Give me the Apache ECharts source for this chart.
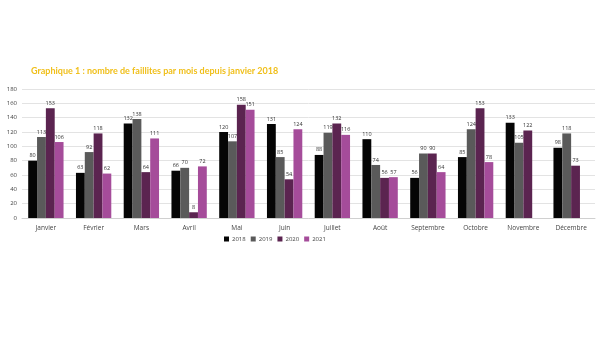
<!DOCTYPE html>
<html><head><meta charset="utf-8">
<script src="https://cdn.jsdelivr.net/npm/echarts@6/dist/echarts.min.js"></script>
<style>html,body{margin:0;padding:0;background:#fff}#c{width:600px;height:344px}</style>
</head><body><div id="c"></div>
<script>
const categories = ["Janvier","Février","Mars","Avril","Mai","Juin","Juillet","Août","Septembre","Octobre","Novembre","Décembre"];
const s2018 = [80,63,132,66,120,131,88,110,56,85,133,98];
const s2019 = [113,92,138,70,107,85,119,74,90,124,105,118];
const s2020 = [153,118,64,8,158,54,132,56,90,153,122,73];
const s2021 = [106,62,111,72,151,124,116,57,64,78,null,null];
const yTicks = [0,20,40,60,80,100,120,140,160,180];
const names = ["2018","2019","2020","2021"];
const colors = ["#050505","#5a5a5a","#5b2450","#a54c9a"];
const data = [s2018,s2019,s2020,s2021];
const chart = echarts.init(document.getElementById('c'));
chart.setOption({
  animation:false,
  title:{text:"Graphique 1 : nombre de faillites par mois depuis janvier 2018",left:26,top:62,
    textStyle:{color:"#f0bf1a",fontSize:9,fontWeight:"bold",fontFamily:"Lato"}},
  legend:{bottom:97,left:219,itemWidth:5,itemHeight:5,itemGap:5,icon:'rect',
    textStyle:{fontSize:6,color:"#444",fontFamily:"Open Sans",padding:[0,0,0,-2]},data:names},
  grid:{left:22,right:5,top:89,bottom:126},
  xAxis:{type:'category',data:categories,axisTick:{show:false},
    axisLine:{lineStyle:{color:"#d0d0d0"}},
    axisLabel:{fontSize:6.5,color:"#444",margin:7,fontFamily:"Open Sans",interval:0}},
  yAxis:{type:'value',min:0,max:180,interval:20,
    axisLabel:{fontSize:6,color:"#444",margin:5,fontFamily:"Open Sans"},
    splitLine:{lineStyle:{color:"#e3e3e3"}}},
  series:data.map((d,i)=>({name:names[i],type:'bar',data:d,barGap:'0%',barCategoryGap:'26%',
    itemStyle:{color:colors[i]},
    label:{show:true,position:'top',fontSize:5.5,color:"#333",distance:2,fontFamily:"Open Sans"}}))
});
</script></body></html>
